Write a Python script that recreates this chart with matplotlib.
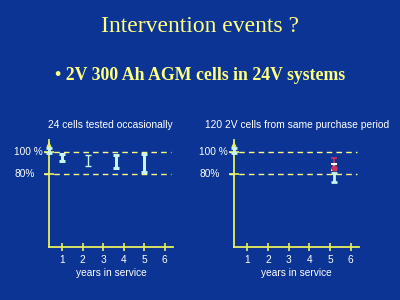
import matplotlib
matplotlib.use("Agg")
import matplotlib.pyplot as plt

BG = '#0b3494'
YEL = '#ffff80'
AXC = '#e8f060'
CYAN = '#c8f4f4'
RED = '#d0305a'

years = [1, 2, 3, 4, 5, 6]
ref_levels = [100, 80]
ref_labels = ['100 %', '80%']

# left panel: 24 cells tested occasionally
left_x = [0.37, 1.0, 2.25, 3.65, 5.0]
left_low = [99, 92, 87, 85.5, 82]
left_high = [103.5, 98, 97, 97, 98]
left_lw = [2.0, 2.2, 1.0, 2.2, 2.2]

# right panel: 120 2V cells
right_cyan_x = [0.37, 5.2]
right_cyan_low = [99, 73]
right_cyan_high = [103.5, 81]
right_red_x = [5.2]
right_red_low = [84]
right_red_high = [95]
right_red_mid = [86]
right_white_x = [5.2]
right_white_low = [84]
right_white_high = [89]

fig = plt.figure(figsize=(4, 3), dpi=100)
fig.patch.set_facecolor(BG)

fig.text(0.5, 1 - 27/300, 'Intervention events ?', ha='center', va='center',
         family='Liberation Serif', fontsize=17, color=YEL)
fig.text(0.5, 1 - 75/300, '\u2022 2V 300 Ah AGM cells in 24V systems', ha='center', va='center',
         family='Liberation Serif', fontsize=12.8, fontweight='bold', color=YEL)


def draw_bars(ax, xs, lows, highs, color, lw, capsize=2.5):
    for x, lo, hi, w in zip(xs, lows, highs, lw):
        ax.errorbar([x], [(lo + hi) / 2], yerr=[[(hi - lo) / 2], [(hi - lo) / 2]],
                    fmt='none', ecolor=color, elinewidth=w, capsize=capsize,
                    capthick=w, clip_on=False, zorder=5)


def make_panel(x0px, x1px, title, title_x):
    ax = fig.add_axes([x0px/400, (300-247)/300, (x1px-x0px)/400, (247-140)/300])
    ax.set_facecolor(BG)
    ax.set_xlim(0.37, 6.4)
    ax.set_ylim(14, 111)
    for s in ['top', 'right']:
        ax.spines[s].set_visible(False)
    for s in ['left', 'bottom']:
        ax.spines[s].set_color(AXC)
        ax.spines[s].set_linewidth(1.3)
    ax.set_xticks(years)
    ax.set_xticklabels([str(y) for y in years], color='white', fontsize=7.3,
                       family='Liberation Sans')
    ax.tick_params(axis='x', direction='inout', length=6, color=AXC, width=1.2, pad=3)
    ax.set_yticks(ref_levels)
    ax.set_yticklabels([])
    ax.tick_params(axis='y', direction='inout', length=7, color=AXC, width=1.2)
    ax.set_xlabel('years in service', color='white', fontsize=7.3,
                  family='Liberation Sans', labelpad=2)
    for lv, lb in zip(ref_levels, ref_labels):
        ax.plot([0.12, 6.3], [lv, lv], ls=(0, (4, 3)), color=YEL, lw=1.0, clip_on=False)
        fig.text((x0px - 35)/400, ax.transData.transform((0, lv))[1] / 300, lb,
                 ha='left', va='center', color='white', fontsize=7.3, family='Liberation Sans')
    ax.annotate('', xy=(0.37, 112), xytext=(0.37, 104),
                arrowprops=dict(arrowstyle='-|>', color=AXC, lw=1.2, mutation_scale=6),
                annotation_clip=False)
    fig.text(title_x/400, 1 - 125/300, title, ha='center', va='center',
             color='white', fontsize=7.4, family='Liberation Sans')
    return ax


axL = make_panel(49, 173, '24 cells tested occasionally', 110)
draw_bars(axL, left_x, left_low, left_high, CYAN, left_lw)

axR = make_panel(234, 359, '120 2V cells from same purchase period', 297)
draw_bars(axR, right_cyan_x, right_cyan_low, right_cyan_high, CYAN, [2.0, 2.0])
draw_bars(axR, right_red_x, right_red_low, right_red_high, RED, [1.2])
draw_bars(axR, right_white_x, right_white_low, right_white_high, 'white', [1.5], capsize=2)
axR.plot(right_red_x, right_red_mid, 'o', color=RED, ms=3.5, zorder=6, clip_on=False)

fig.savefig('out.png', dpi=100, facecolor=BG)
